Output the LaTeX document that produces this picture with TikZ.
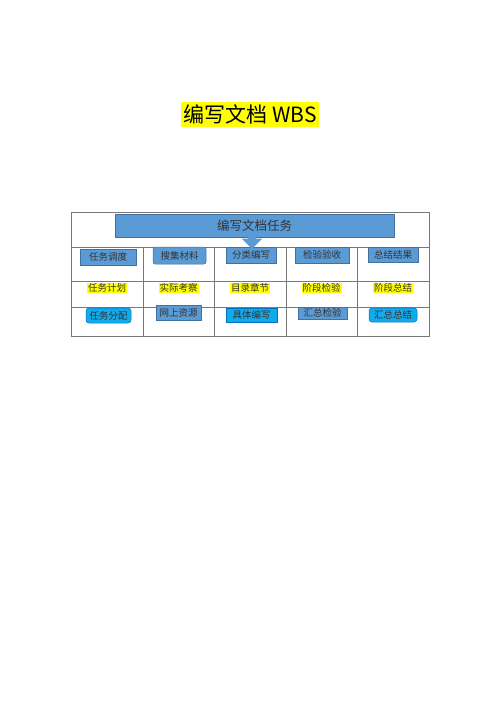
\documentclass[tikz,border=0pt]{standalone}
\usepackage{fontspec}
\newfontfamily\cjk{Noto Sans CJK SC}
\usetikzlibrary{shapes.arrows}
\definecolor{steel}{RGB}{91,155,213}
\definecolor{steeledge}{RGB}{65,113,156}
\definecolor{sky}{RGB}{18,170,235}
\definecolor{skyedge}{RGB}{0,112,192}
\definecolor{hilite}{RGB}{255,255,0}
\definecolor{gridline}{RGB}{120,120,120}

\begin{document}
\begin{tikzpicture}[x=1pt,y=-1pt,
  every node/.style={font=\cjk\fontsize{9.5}{11}\selectfont,text=black!80,inner sep=0pt},
  steelbox/.style={fill=steel,draw=steeledge,line width=0.5pt},
  skybox/.style={fill=sky,draw=skyedge,line width=0.5pt},
  mark yellow/.style={fill=hilite,inner sep=1pt}]
  \useasboundingbox (0,0) rectangle (500,707);
  % title
  \node[fill=hilite,inner xsep=2pt,inner ysep=3pt,text=black,font=\cjk\fontsize{21}{24}\selectfont] (title) at (250,114.5) {编写文档 WBS};
  % table
  \draw[gridline,line width=0.5pt] (71,212) rectangle (429,336);
  \foreach \y in {247,281,307}
    \draw[gridline,line width=0.5pt] (71,\y) -- (429,\y);
  \foreach \x in {143,214,286,357}
    \draw[gridline,line width=0.5pt] (\x,247) -- (\x,336);
  % top task
  \node[steelbox,minimum width=279pt,minimum height=23pt,font=\cjk\fontsize{12.5}{14}\selectfont] (task) at (254.5,225.5) {编写文档任务};
  % first row
  \node[steelbox,minimum width=56pt,minimum height=16pt] (diaodu) at (108,257) {任务调度};
  \node[steelbox,rounded corners=2pt,minimum width=53pt,minimum height=17pt] (caiji) at (179.5,255.5) {搜集材料};
  \node[steelbox,minimum width=50pt,minimum height=16pt] (fenlei) at (251,255) {分类编写};
  \node[steelbox,minimum width=54pt,minimum height=16pt] (yanshou) at (322,255) {检验验收};
  \node[steelbox,minimum width=50pt,minimum height=15pt] (jieguo) at (393,254.5) {总结结果};
  \node[single arrow,fill=steel,shape border rotate=270,inner sep=4pt,single arrow head extend=6pt,
    minimum height=12pt] (down) at (252,240.5) {};
  % second row
  \node[mark yellow] (jihua) at (107,288) {任务计划};
  \node[mark yellow] (kaocha) at (178.5,288) {实际考察};
  \node[mark yellow] (zhangjie) at (250,288) {目录章节};
  \node[mark yellow] (jieduan) at (321.5,288) {阶段检验};
  \node[mark yellow] (zongjie) at (393,288) {阶段总结};
  % third row
  \node[skybox,rounded corners=3pt,minimum width=45pt,minimum height=15pt] (fenpei) at (108.5,315.5) {任务分配};
  \node[steelbox,minimum width=45pt,minimum height=15pt] (ziyuan) at (178.5,312.5) {网上资源};
  \node[skybox,minimum width=51pt,minimum height=14pt] (juti) at (251.5,315) {具体编写};
  \node[steelbox,minimum width=49pt,minimum height=12pt] (huizong) at (322.5,313) {汇总检验};
  \node[skybox,rounded corners=3pt,minimum width=48pt,minimum height=14pt] (zongzong) at (393,315) {汇总总结};
\end{tikzpicture}
\end{document}
